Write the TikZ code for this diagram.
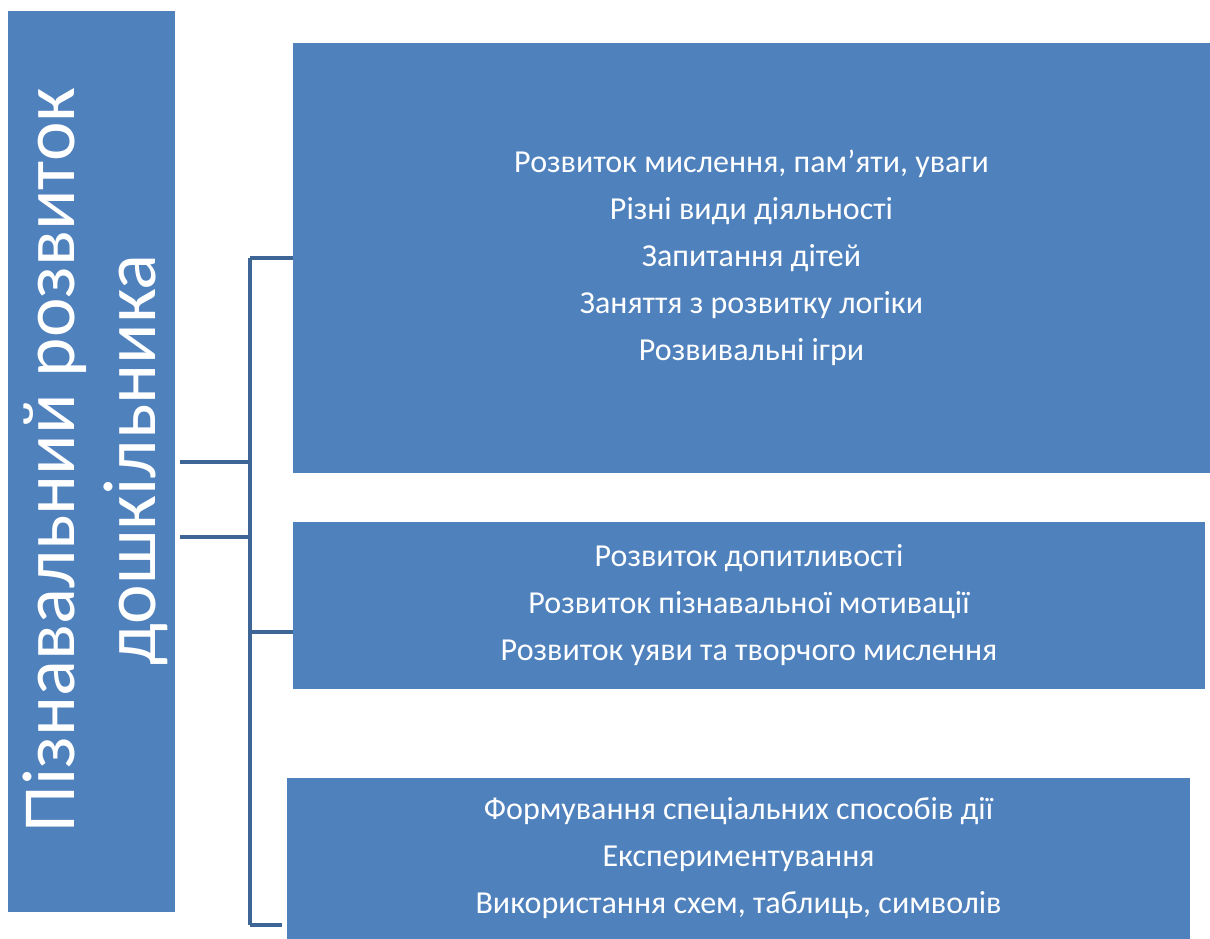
\documentclass[tikz,border=0pt]{standalone}
\usepackage{fontspec}
\setmainfont{Carlito}
\definecolor{boxblue}{HTML}{4F81BD}
\definecolor{linkblue}{HTML}{3D6596}
\begin{document}
\begin{tikzpicture}[x=1pt,y=-1pt,
  box/.style={fill=boxblue,draw=none,inner sep=0pt,text=white,align=center,
    font=\fontsize{32}{47}\selectfont},
  link/.style={draw=linkblue,line width=4.5pt}]
\useasboundingbox (0,0) rectangle (1210,939);
% left title box
\node[box,minimum width=167pt,minimum height=901pt] (title) at (91.5,461.5) {};
\node[text=white,rotate=90,align=center,inner sep=0pt,
  font=\fontsize{75}{81}\selectfont] (titletext) at (95,460)
  {Пізнавальний розвиток\\дошкільника};
% right boxes
\node[box,minimum width=917pt,minimum height=430pt] (b1) at (751.5,258)
  {Розвиток мислення, пам’яти, уваги\\Різні види діяльності\\Запитання дітей\\Заняття з розвитку логіки\\Розвивальні ігри};
\node[box,minimum width=912pt,minimum height=167pt] (b2) at (749,605.5)
  {Розвиток допитливості\\Розвиток пізнавальної мотивації\\Розвиток уяви та творчого мислення};
\node[box,minimum width=903pt,minimum height=161pt] (b3) at (738.5,858.5)
  {Формування спеціальних способів дії\\Експериментування\\Використання схем, таблиць, символів};
% connectors
\coordinate (t1) at (180,462);
\coordinate (t2) at (180,537);
\coordinate (ja) at (250,462);
\coordinate (jb) at (250,537);
\coordinate (k1) at (250,258);
\coordinate (k2) at (250,632);
\coordinate (k3) at (250,925);
\draw[link] (k1) -- (k3);
\draw[link] (k1) -- (k1 -| b1.west);
\draw[link] (k2) -- (k2 -| b2.west);
\draw[link] (k3) -- ([xshift=-5pt]k3 -| b3.west);
\draw[link] (t1) -- (ja);
\draw[link] (t2) -- (jb);
\end{tikzpicture}
\end{document}
